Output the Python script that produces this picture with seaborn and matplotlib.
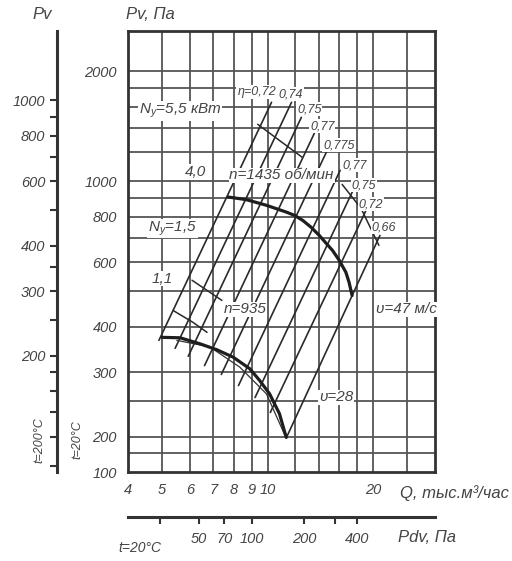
import numpy as np
import pandas as pd
import matplotlib
matplotlib.use("Agg")
import matplotlib.pyplot as plt
import matplotlib.ticker as ticker
import seaborn as sns

# 1. Datos (Q en tys. m3/h, P en Pa) -----------------------------------

# curva n=1435 ob/min
q_1435 = [7.72, 8.70, 9.92, 11.30, 11.93, 12.59, 13.32, 14.04, 14.60, 15.31, 16.00, 16.71, 17.07, 17.41]
p_1435 = [906, 891, 860, 824, 807, 782, 748, 711, 681, 647, 608, 564, 529, 487]

# curva n=935
q_935 = [5.00, 5.63, 6.42, 7.16, 7.98, 8.89, 9.49, 10.13, 10.81, 11.30]
p_935 = [374, 373, 359, 346, 330, 307, 285, 262, 231, 199]
q_935_fina = [5.51, 6.85, 8.33, 9.92, 11.17]
p_935_fina = [367, 352, 310, 262, 203]

# lineas de rendimiento eta
eta_textos = ['η=0,72', '0,74', '0,75', '0,77', '0,775', '0,77', '0,75', '0,72', '0,66']
eta_q_arriba = [10.26, 11.70, 12.48, 13.59, 14.79, 16.10, 17.52, 19.08, 20.90]
eta_p_arriba = [1646, 1646, 1497, 1354, 1216, 1072, 945, 833, 711]
eta_q_abajo = [4.90, 5.45, 5.94, 6.61, 7.38, 8.26, 9.21, 10.18, 11.32]
eta_p_abajo = [367, 349, 332, 313, 296, 276, 256, 233, 199]
eta_q_txt = [9.31, 11.62, 13.15, 14.32, 15.99, 17.76, 18.83, 19.71, 21.45]
eta_p_txt = [1753, 1731, 1575, 1415, 1255, 1106, 975, 865, 748]

# segmentos de potencia N
seg_id = ['A', 'A', 'B', 'B', 'B', 'C', 'C', 'D', 'D', 'D']
seg_q = [9.37, 12.56, 16.31, 18.47, 20.76, 6.09, 7.41, 5.38, 6.13, 6.72]
seg_p = [1433, 1163, 981, 843, 668, 536, 472, 443, 411, 386]

# rotulos dentro del grafico
rot_textos = [r'$\mathregular{N_у}$=5,5 кВт', '4,0', 'n=1435 об/мин', r'$\mathregular{N_у}$=1,5',
              '1,1', 'n=935', 'υ=47 м/с', 'υ=28']
rot_q = [5.63, 6.25, 10.96, 5.35, 5.01, 8.61, 24.93, 15.69]
rot_p = [1555, 1059, 1039, 743, 542, 446, 446, 256]

# ejes
q_ticks = [4, 5, 6, 7, 8, 9, 10, 20]
p_ticks = [160, 200, 300, 400, 600, 800, 1000, 2000]
p_ticklabels = ['100', '200', '300', '400', '600', '800', '1000', '2000']
grid_q = [5, 6, 7, 8, 9, 10, 12, 14, 16, 18, 20, 25]
grid_p = [180, 200, 250, 300, 400, 500, 600, 700, 800, 900, 1000, 1200, 1400, 1600, 1800, 2000]
pv200_ticks = [200, 300, 400, 600, 800, 1000]
pv200_minor = [100, 120, 140, 160, 180, 250, 350, 500, 700, 900]
pdv_ticks = [30, 50, 70, 100, 200, 300, 400]
pdv_labels = ['', '50', '70', '100', '200', '', '400']

# 2. Estilo ------------------------------------------------------
sns.set_theme(style="white")
plt.rcParams['font.family'] = ['Liberation Sans Narrow', 'Liberation Sans', 'DejaVu Sans']
plt.rcParams['font.style'] = 'italic'
plt.rcParams['text.color'] = '#444444'
tinta = '#333333'

fig = plt.figure(figsize=(5.12, 5.61), dpi=100)
ax = fig.add_axes([0.25, 0.1586, 0.5996, 0.7861])
ax.set_xscale('log')
ax.set_yscale('log')
ax.set_xlim(4, 30)
ax.set_ylim(160, 2580)

for v in grid_q:
    ax.axvline(v, color='#555555', linewidth=1.3, zorder=1)
for v in grid_p:
    ax.axhline(v, color='#555555', linewidth=1.3, zorder=1)

# lineas eta
filas = []
for i in range(len(eta_textos)):
    filas.append({'linea': i, 'Q': eta_q_abajo[i], 'P': eta_p_abajo[i]})
    filas.append({'linea': i, 'Q': eta_q_arriba[i], 'P': eta_p_arriba[i]})
df_eta = pd.DataFrame(filas)
sns.lineplot(data=df_eta, x='Q', y='P', units='linea', estimator=None, sort=False,
             color='#2a2a2a', linewidth=1.2, ax=ax, zorder=3)

df_seg = pd.DataFrame({'seg': seg_id, 'Q': seg_q, 'P': seg_p})
sns.lineplot(data=df_seg, x='Q', y='P', units='seg', estimator=None, sort=False,
             color='#2a2a2a', linewidth=1.1, ax=ax, zorder=3)

sns.lineplot(x=q_935_fina, y=p_935_fina, sort=False, color=tinta, linewidth=0.9, ax=ax, zorder=3)
sns.lineplot(x=q_1435, y=p_1435, sort=False, color='#1e1e1e', linewidth=2.3, ax=ax, zorder=4)
sns.lineplot(x=q_935, y=p_935, sort=False, color='#1e1e1e', linewidth=2.3, ax=ax, zorder=4)

caja = dict(facecolor='white', edgecolor='none', pad=0.6)
for t, q, p in zip(eta_textos, eta_q_txt, eta_p_txt):
    ax.text(q, p, t, fontsize=9, ha='center', va='center', bbox=caja, zorder=5)
for t, q, p in zip(rot_textos, rot_q, rot_p):
    ax.text(q, p, t, fontsize=11, ha='center', va='center', bbox=caja, zorder=5)

ax.set_xticks(q_ticks)
ax.set_xticklabels([str(v) for v in q_ticks])
ax.set_yticks(p_ticks)
ax.set_yticklabels(p_ticklabels)
ax.xaxis.set_minor_locator(ticker.NullLocator())
ax.yaxis.set_minor_locator(ticker.NullLocator())
ax.tick_params(axis='both', direction='out', length=5, width=1.5, color=tinta,
               labelsize=10.5, labelcolor='#444444', pad=3)
ax.set_xlabel('')
ax.set_ylabel('')
for s in ax.spines.values():
    s.set_linewidth(2)
    s.set_color(tinta)

# eje Pv a t=200 C (izquierda)
ax_pv = ax.secondary_yaxis(-0.231, functions=(lambda p: p * 0.6, lambda p: p / 0.6))
ax_pv.set_yticks(pv200_ticks)
ax_pv.set_yticklabels([str(v) for v in pv200_ticks])
ax_pv.yaxis.set_minor_locator(ticker.FixedLocator(pv200_minor))
ax_pv.yaxis.set_minor_formatter(ticker.NullFormatter())
ax_pv.tick_params(which='both', direction='out', length=5, width=1.5, color=tinta,
                  labelsize=10.5, labelcolor='#444444')
ax_pv.spines['left'].set_linewidth(2.2)
ax_pv.spines['left'].set_color(tinta)

# eje Pdv (abajo)
ax_pdv = ax.secondary_xaxis(-0.102, functions=(lambda q: 100 * (np.abs(q) / 9.0) ** 2,
                                                lambda d: 9.0 * np.sqrt(np.abs(d) / 100)))
ax_pdv.set_xticks(pdv_ticks)
ax_pdv.set_xticklabels(pdv_labels)
ax_pdv.xaxis.set_minor_locator(ticker.NullLocator())
ax_pdv.tick_params(direction='out', length=5, width=1.5, color=tinta,
                   labelsize=10.5, labelcolor='#444444', pad=6)
ax_pdv.spines['bottom'].set_linewidth(2.2)
ax_pdv.spines['bottom'].set_color(tinta)

# textos fuera del grafico
fig.text(0.082, 0.975, 'Pv', fontsize=12, ha='center', va='center')
fig.text(0.293, 0.975, 'Pv, Па', fontsize=12, ha='center', va='center')
fig.text(0.781, 0.121, 'Q, тыс.м³/час', fontsize=12, ha='left', va='center')
fig.text(0.834, 0.042, 'Pdv, Па', fontsize=12, ha='center', va='center')
fig.text(0.273, 0.023, 't=20°C', fontsize=10, ha='center', va='center')
fig.text(0.078, 0.216, 't=200°C', fontsize=9, ha='center', va='center', rotation=90)
fig.text(0.152, 0.216, 't=20°C', fontsize=9, ha='center', va='center', rotation=90)

plt.savefig('out.png', dpi=100)
plt.close()
